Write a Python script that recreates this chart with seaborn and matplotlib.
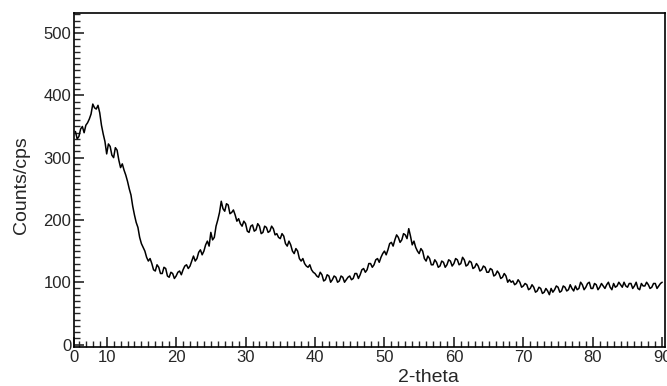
import matplotlib.pyplot as plt
import matplotlib.ticker as mticker
import numpy as np
import pandas as pd
import seaborn as sns
sns.set_style('ticks')
plt.rcParams['font.family'] = ['Liberation Sans', 'DejaVu Sans']

# ---------------------------------------------------------------------------------------
# Data (0.25 degree steps, 5.5 to 90 degrees)

two_theta = np.arange(5.5, 90.01, 0.25)
counts = [
    342, 330, 334, 346, 350, 340, 352, 356, 362, 370, 386, 380, 378, 384, 372, 352, 338, 326,
    306, 322, 318, 304, 300, 316, 312, 296, 284, 290, 280, 272, 262, 250, 240, 222, 208, 196, 188, 172,
    162, 156, 150, 140, 134, 138, 130, 120, 118, 128, 124, 114, 114, 124, 122, 110, 108, 116, 114, 106,
    110, 116, 118, 112, 120, 126, 128, 122, 126, 134, 142, 134, 138, 148, 152, 144, 150, 160, 166, 158,
    180, 168, 172, 190, 200, 212, 230, 218, 214, 226, 224, 210, 212, 216, 208, 198, 202, 194, 190, 198,
    194, 182, 180, 190, 192, 182, 184, 194, 190, 178, 180, 190, 188, 180, 182, 190, 186, 176, 178, 172,
    170, 178, 174, 162, 158, 166, 160, 150, 146, 154, 150, 138, 134, 138, 130, 126, 124, 128, 120, 116,
    114, 110, 108, 116, 112, 102, 104, 112, 110, 100, 104, 110, 108, 100, 102, 110, 108, 100, 104, 108,
    110, 104, 106, 114, 114, 106, 112, 120, 122, 116, 120, 130, 130, 124, 128, 136, 138, 132, 140, 146,
    150, 144, 152, 162, 164, 158, 168, 176, 172, 164, 168, 178, 176, 170, 186, 174, 160, 166, 156, 150,
    146, 154, 150, 138, 134, 142, 138, 128, 128, 136, 132, 124, 126, 134, 132, 124, 128, 136, 134, 126,
    130, 138, 136, 128, 130, 140, 136, 126, 128, 134, 132, 122, 124, 130, 126, 118, 120, 126, 124, 116,
    116, 122, 120, 110, 112, 118, 114, 106, 108, 114, 110, 100, 104, 100, 102, 96, 98, 104, 100, 92,
    94, 98, 96, 88, 90, 96, 92, 84, 86, 92, 90, 82, 84, 90, 86, 80, 90, 84, 88, 94,
    92, 84, 86, 94, 92, 86, 88, 96, 90, 86, 94, 88, 90, 100, 96, 88, 92, 98, 100, 90,
    90, 98, 96, 88, 92, 98, 94, 90, 96, 100, 92, 88, 98, 92, 94, 100, 96, 92, 100, 94,
    92, 98, 98, 90, 94, 100, 90, 88, 98, 94, 94, 100, 96, 90, 92, 98, 98, 90, 94, 98,
    100,
]

# the scan starts near 5.3 deg but the left end is labelled "0"
x_ticks = [5.3, 10, 20, 30, 40, 50, 60, 70, 80, 90]
x_tick_labels = ['0', '10', '20', '30', '40', '50', '60', '70', '80', '90']
y_ticks = [0, 100, 200, 300, 400, 500]

df = pd.DataFrame({'two_theta': two_theta, 'counts': counts})

# ---------------------------------------------------------------------------------------
# Plot

fig = plt.figure(figsize=(6.67, 3.86), dpi=100)
ax = fig.add_axes([0.111, 0.101, 0.886, 0.865])
sns.lineplot(data=df, x='two_theta', y='counts', color='black', linewidth=1.1, ax=ax)

ax.set_xlim(5.3, 90.4)
ax.set_ylim(-4, 532)
ax.set_xticks(x_ticks)
ax.set_xticklabels(x_tick_labels)
ax.set_yticks(y_ticks)
ax.xaxis.set_minor_locator(mticker.MultipleLocator(1))
ax.yaxis.set_minor_locator(mticker.MultipleLocator(10))
ax.tick_params(which='major', direction='in', length=7, width=1.2, labelsize=12, pad=2)
ax.tick_params(which='minor', direction='in', length=4, width=1.0)

for side in ['left', 'right', 'top', 'bottom']:
    ax.spines[side].set_visible(True)
    ax.spines[side].set_linewidth(1.2)
    ax.spines[side].set_color('black')

ax.set_xlabel('2-theta', fontsize=14)
ax.set_ylabel('Counts/cps', fontsize=14)
ax.xaxis.set_label_coords(0.6, -0.065)
ax.yaxis.set_label_coords(-0.075, 0.485)

plt.savefig('out.png', dpi=100)
